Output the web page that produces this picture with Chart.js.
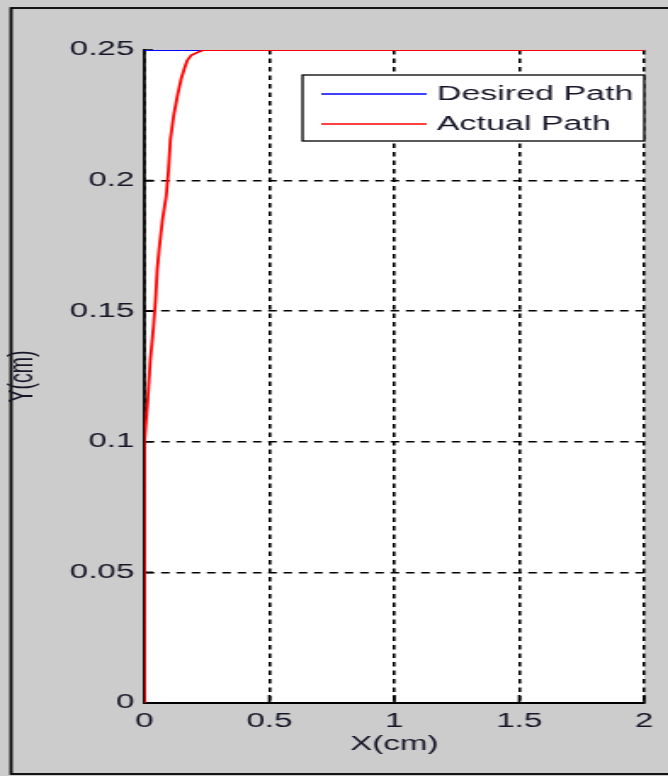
<!DOCTYPE html>
<html>
<head>
<meta charset="utf-8">
<script src="https://cdn.jsdelivr.net/npm/chart.js@4.4.1/dist/chart.umd.min.js"></script>
<style>
html,body{margin:0;padding:0;background:#cccccc;overflow:hidden;}
#c{display:block;}
</style>
</head>
<body>
<canvas id="c" width="393" height="776" style="width:668px;height:776px"></canvas>
<script>
/* ================= DATA ================= */
const seriesNames=["Desired Path","Actual Path"];
const seriesColors=["#0000ff","#ff0000"];

const desiredX=[0,2];
const desiredY=[0.25,0.25];

const actualX=[0,0,0.013,0.023,0.036,0.044,0.051,0.060,0.072,0.087,0.096,0.104,0.117,0.133,0.147,0.160,0.171,0.187,0.210,0.236,2];
const actualY=[0,0.100,0.116,0.131,0.144,0.154,0.166,0.175,0.185,0.194,0.204,0.216,0.225,0.233,0.239,0.243,0.246,0.248,0.249,0.250,0.250];

const xTicks=[0,0.5,1,1.5,2];
const xLabels=["0","0.5","1","1.5","2"];
const yTicks=[0,0.05,0.1,0.15,0.2,0.25];
const yLabels=["0","0.05","0.1","0.15","0.2","0.25"];

const toPts=(xs,ys)=>xs.map((x,i)=>({x:x,y:ys[i]}));

const FONT="'Liberation Sans', Arial, sans-serif";
const TXT="#161628";

/* ================= FRAME + LEGEND ================= */
const framePlugin={
id:"frame",
beforeDraw(chart){
const {ctx,chartArea:a}=chart;
ctx.save();
ctx.fillStyle="#cccccc";
ctx.fillRect(0,0,chart.width,chart.height);
ctx.strokeStyle="#000";
ctx.lineWidth=1.8;
ctx.strokeRect(6.5,8,420,766);
ctx.fillStyle="#fff";
ctx.fillRect(a.left,a.top,a.right-a.left,a.bottom-a.top);
ctx.restore();
},
beforeDatasetsDraw(chart){
/* inward tick marks */
const {ctx,chartArea:a,scales}=chart;
ctx.save();
ctx.strokeStyle="#000";
ctx.lineWidth=1.6;
ctx.beginPath();
xTicks.forEach(v=>{
const px=scales.x.getPixelForValue(v);
ctx.moveTo(px,a.bottom);
ctx.lineTo(px,a.bottom-8);
});
yTicks.forEach(v=>{
const py=scales.y.getPixelForValue(v);
ctx.moveTo(a.left,py);
ctx.lineTo(a.left+5,py);
});
ctx.stroke();
ctx.restore();
},
afterDraw(chart){
const {ctx}=chart;
ctx.save();
ctx.fillStyle="#fff";
ctx.fillRect(178,75,201,66);
ctx.strokeStyle="#000";
ctx.lineWidth=1.3;
ctx.strokeRect(178,75,201,66);
ctx.font="20px "+FONT;
ctx.textBaseline="middle";
seriesNames.forEach((name,i)=>{
const y=94+i*30;
ctx.strokeStyle=seriesColors[i];
ctx.lineWidth=1.5;
ctx.beginPath();
ctx.moveTo(189,y);
ctx.lineTo(251,y);
ctx.stroke();
ctx.fillStyle=TXT;
ctx.fillText(name,257,y);
});
ctx.restore();
}
};

/* ================= CHART ================= */
const canvas=document.getElementById("c");

new Chart(
canvas,
{
type:"scatter",
data:{
datasets:[
{
label:seriesNames[0],
data:toPts(desiredX,desiredY),
showLine:true,
borderColor:seriesColors[0],
borderWidth:1.8,
pointRadius:0,
order:1
},
{
label:seriesNames[1],
data:toPts(actualX,actualY),
showLine:true,
borderColor:seriesColors[1],
borderWidth:1.8,
pointRadius:0,
order:0
}
]
},
options:{
responsive:false,
devicePixelRatio:1,
animation:false,
events:[],
layout:{
padding:{left:0,right:14,top:50,bottom:0}
},
plugins:{
legend:{display:false},
tooltip:{enabled:false}
},
scales:{
x:{
type:"linear",
min:0,
max:2,
afterBuildTicks:(s)=>{s.ticks=xTicks.map(v=>({value:v}));},
afterFit:(s)=>{s.height=73;},
ticks:{
callback:(v,i)=>xLabels[i],
color:TXT,
font:{family:FONT,size:19.5},
padding:7,
maxRotation:0,
autoSkip:false
},
grid:{
color:"#000",
lineWidth:1.6,
drawTicks:false
},
border:{
display:true,
color:"#000",
width:2,
dash:[4.5,4]
},
title:{
display:true,
text:"X(cm)",
color:TXT,
font:{family:FONT,size:19.5},
padding:{top:0,bottom:20}
}
},
y:{
type:"linear",
min:0,
max:0.25,
afterBuildTicks:(s)=>{s.ticks=yTicks.map(v=>({value:v}));},
afterFit:(s)=>{s.width=85;},
ticks:{
callback:(v,i)=>yLabels[i],
color:TXT,
font:{family:FONT,size:19.5},
padding:6,
autoSkip:false
},
grid:{
/* top line sits under the paths, leave it out */
color:(c)=>c.tick && c.tick.value===0.25 ? "rgba(0,0,0,0)" : "#000",
lineWidth:1.6,
drawTicks:false
},
border:{
display:true,
color:"#000",
width:1.8,
dash:[5,4]
},
title:{
display:true,
text:"Y(cm)",
color:TXT,
font:{family:FONT,size:19.5},
padding:{top:2,bottom:0}
}
}
}
},
plugins:[framePlugin]
}
);

/* stretch the drawing across the window */
canvas.style.width="668px";
canvas.style.height="776px";
</script>
</body>
</html>
